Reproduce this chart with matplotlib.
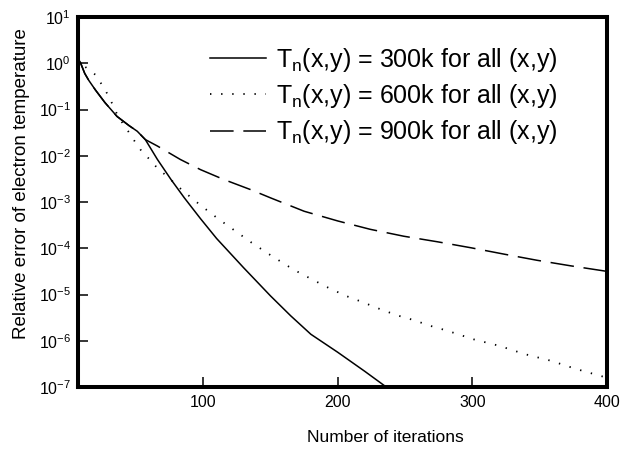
import numpy as np
import matplotlib
matplotlib.use('Agg')
import matplotlib.pyplot as plt

plt.rcParams['font.family'] = ['Liberation Sans', 'DejaVu Sans']
plt.rcParams['mathtext.fontset'] = 'custom'
plt.rcParams['mathtext.rm'] = 'Liberation Sans'
plt.rcParams['mathtext.it'] = 'Liberation Sans'
plt.rcParams['mathtext.default'] = 'regular'
plt.rcParams['axes.unicode_minus'] = False
plt.rcParams['lines.scale_dashes'] = False

# data (log10 of the relative error)
iter_300 = [7, 9, 12, 15, 20, 27, 36, 45, 51, 57, 66, 76, 86, 98, 110, 130, 150, 165, 180, 200, 220, 236, 242]
log_300 = [0.1, 0.0, -0.22, -0.37, -0.58, -0.85, -1.15, -1.35, -1.47, -1.65, -2.08, -2.51, -2.91, -3.36,
           -3.79, -4.42, -5.03, -5.46, -5.86, -6.25, -6.66, -7.0, -7.12]

iter_600 = [7, 12, 20, 24, 28, 32, 36, 41, 46, 50, 55, 61, 66, 73, 85, 98, 111, 124, 136, 149, 167, 180,
            192, 206, 218, 230, 244, 256, 269, 281, 301, 320, 339, 358, 377, 400]
log_600 = [0.1, -0.07, -0.25, -0.43, -0.62, -0.85, -1.1, -1.34, -1.54, -1.73, -1.93, -2.1, -2.27, -2.44,
           -2.76, -3.07, -3.36, -3.63, -3.88, -4.13, -4.46, -4.66, -4.84, -5.03, -5.16, -5.3, -5.45,
           -5.55, -5.68, -5.78, -5.97, -6.11, -6.29, -6.43, -6.61, -6.8]

iter_900 = [7, 9, 12, 15, 20, 27, 36, 45, 51, 57, 66, 83, 98, 115, 135, 150, 175, 200, 224, 249, 274,
            299, 324, 348, 373, 400]
log_900 = [0.1, 0.0, -0.22, -0.37, -0.58, -0.85, -1.15, -1.35, -1.47, -1.65, -1.79, -2.08, -2.30, -2.51,
           -2.73, -2.91, -3.2, -3.41, -3.59, -3.74, -3.86, -3.99, -4.13, -4.26, -4.38, -4.5]

labels = ['T$_{n}$(x,y) = 300k for all (x,y)',
          'T$_{n}$(x,y) = 600k for all (x,y)',
          'T$_{n}$(x,y) = 900k for all (x,y)']

W, H = 629, 450
fig = plt.figure(figsize=(W/100, H/100), dpi=100)
ax = fig.add_axes([78/W, 1-387/H, 529/W, 370/H])

ax.plot(iter_300, np.power(10.0, log_300), color='black', lw=1.1, label=labels[0])
ax.plot(iter_600, np.power(10.0, log_600), color='black', lw=1.3, linestyle=(0, (1, 7)), label=labels[1])
ax.plot(iter_900, np.power(10.0, log_900), color='black', lw=1.1, linestyle=(0, (17, 7)), label=labels[2])

ax.set_yscale('log')
ax.set_xlim(7, 400)
ax.set_ylim(1e-7, 1e1)
ax.set_xticks([100, 200, 300, 400])
ax.set_yticks([10.0**k for k in range(-7, 2)])
ax.minorticks_off()

for s in ax.spines.values():
    s.set_linewidth(2.9)
ax.tick_params(direction='in', length=7, width=1.1, labelsize=11.5, pad=6)
ax.tick_params(axis='y', pad=5)

# axis titles sit off-centre in the original
fig.text(385/W, 1-438/H, 'Number of iterations', fontsize=12.5, ha='center', va='center')
fig.text(22/W, 1-184/H, 'Relative error of electron temperature', fontsize=13.5,
         ha='center', va='center', rotation=90)

ax.legend(loc='upper right', frameon=False, fontsize=18, handlelength=2.24, handletextpad=0.4,
          labelspacing=0.34, bbox_to_anchor=(0.926, 0.95), borderaxespad=0.0)

fig.savefig('out.png', dpi=100)
